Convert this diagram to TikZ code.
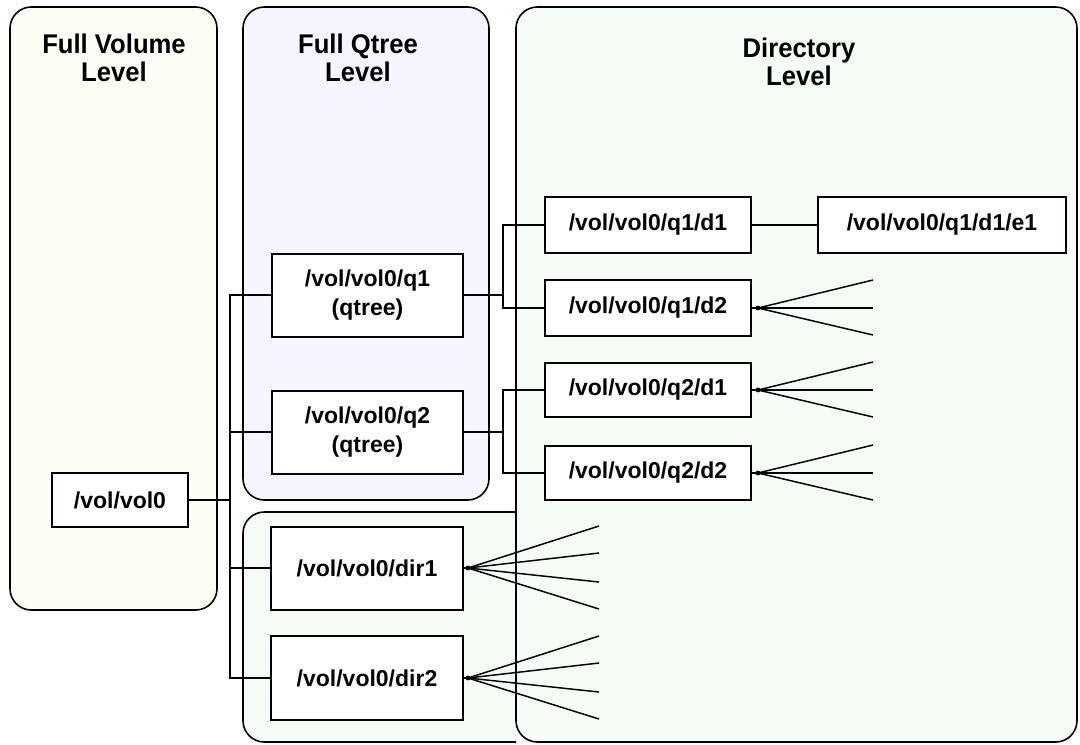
\documentclass[tikz,border=0pt]{standalone}
\usepackage{fontspec}
\setmainfont{Liberation Sans}
\usepackage{xcolor}
\usetikzlibrary{calc}
\definecolor{volfill}{HTML}{FDFDF5}
\definecolor{qtreefill}{HTML}{F5F5FD}
\definecolor{dirfill}{HTML}{F5FCF5}

\begin{document}
\begin{tikzpicture}[x=0.75pt, y=-0.75pt, line width=1.5pt,
    panel/.style={draw, line width=1.2pt, rounded corners=16pt},
    level/.style={align=center, font={\bfseries\addfontfeature{FakeStretch=0.95}\fontsize{20.25}{21.5}\selectfont}},
    dirbox/.style={draw, fill=white, inner sep=0pt, align=center, font={\bfseries\fontsize{17.25}{21.75}\selectfont}},
    fan/.style={line width=1.1pt}]
    \useasboundingbox (0,0) rectangle (1080,744);

    \path[panel, fill=volfill] (10,7) rectangle (217,610);
    \path[panel, fill=qtreefill] (243,7) rectangle (489,500);
    \path[panel, fill=dirfill] (516,512) -- (243,512) -- (243,742) -- (516,742);
    \path[panel, fill=dirfill] (516,7) rectangle (1077,742);

    \node[level] (tvol) at (114,58) {Full Volume\\Level};
    \node[level] (tqtree) at (358,58) {Full Qtree\\Level};
    \node[level] (tdir) at (799,62) {Directory\\Level};

    \node[dirbox, minimum width=102pt, minimum height=40.5pt] (vol0) at (120,500) {/vol/vol0};
    \node[dirbox, minimum width=143.25pt, minimum height=62.25pt] (q1) at (367.5,295) {/vol/vol0/q1\\(qtree)};
    \node[dirbox, minimum width=143.25pt, minimum height=62.25pt] (q2) at (367.5,432) {/vol/vol0/q2\\(qtree)};
    \node[dirbox, minimum width=144pt, minimum height=62.25pt] (dir1) at (367,568) {/vol/vol0/dir1};
    \node[dirbox, minimum width=144pt, minimum height=63pt] (dir2) at (367,678) {/vol/vol0/dir2};
    \node[dirbox, minimum width=154.5pt, minimum height=42pt] (q1d1) at (648,225) {/vol/vol0/q1/d1};
    \node[dirbox, minimum width=154.5pt, minimum height=42pt] (q1d2) at (648,308) {/vol/vol0/q1/d2};
    \node[dirbox, minimum width=154.5pt, minimum height=40.5pt] (q2d1) at (648,390) {/vol/vol0/q2/d1};
    \node[dirbox, minimum width=154.5pt, minimum height=40.5pt] (q2d2) at (648,473) {/vol/vol0/q2/d2};
    \node[dirbox, minimum width=186pt, minimum height=42pt] (q1d1e1) at (942,225) {/vol/vol0/q1/d1/e1};

    \coordinate (lbus) at (230,500);
    \draw (vol0) -- (lbus);
    \foreach \n in {q1,q2,dir1,dir2}
        \draw (lbus) |- (\n);

    \coordinate (q1bus) at (503,295);
    \coordinate (q2bus) at (503,432);
    \draw (q1) -- (q1bus);
    \draw (q1bus) |- (q1d1);
    \draw (q1bus) |- (q1d2);
    \draw (q2) -- (q2bus);
    \draw (q2bus) |- (q2d1);
    \draw (q2bus) |- (q2d2);
    \draw (q1d1) -- (q1d1e1);

    \foreach \b in {q1d2,q2d1,q2d2} {
        \coordinate (\b-j) at ($(\b.east)+(6,0)$);
        \draw (\b.east) -- (\b-j);
        \fill (\b-j) circle (1.8pt);
        \foreach \dy [count=\i] in {-28,0,27} {
            \coordinate (\b-\i) at ($(\b.east)+(121,\dy)$);
            \draw[fan] (\b-j) -- (\b-\i);
        }
    }
    \foreach \b in {dir1,dir2} {
        \coordinate (\b-j) at ($(\b.east)+(4,0)$);
        \draw (\b.east) -- (\b-j);
        \fill (\b-j) circle (1.8pt);
        \foreach \dy [count=\i] in {-42,-15,14,41} {
            \coordinate (\b-\i) at ($(\b.east)+(135,\dy)$);
            \draw[fan] (\b-j) -- (\b-\i);
        }
    }
\end{tikzpicture}
\end{document}
